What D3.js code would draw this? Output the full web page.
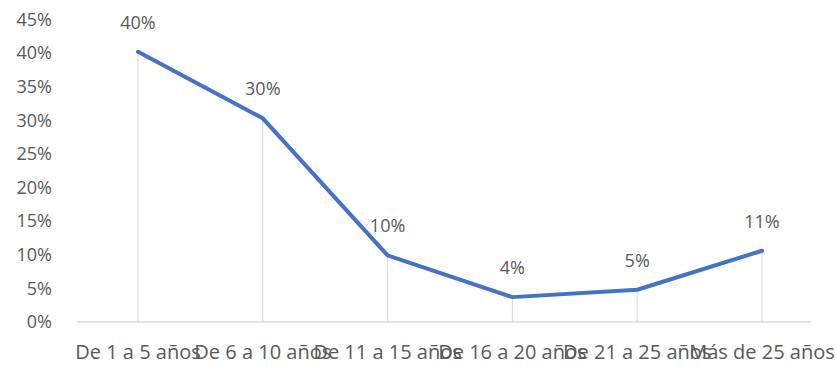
<!DOCTYPE html>
<html>
<head>
<meta charset="utf-8">
<script src="https://cdn.jsdelivr.net/npm/d3@7"></script>
<style>
  body { margin: 0; background: #fff; }
  text { font-family: "Open Sans", "Liberation Sans", sans-serif; fill: #595959; }
</style>
</head>
<body>
<div id="chart"></div>
<script>
var categories = ["De 1 a 5 años", "De 6 a 10 años", "De 11 a 15 años", "De 16 a 20 años", "De 21 a 25 años", "Más de 25 años"];
var values = [0.402, 0.303, 0.099, 0.037, 0.048, 0.106];
var labels = ["40%", "30%", "10%", "4%", "5%", "11%"];
var yTicks = [0, 0.05, 0.10, 0.15, 0.20, 0.25, 0.30, 0.35, 0.40, 0.45];

var width = 836, height = 367;
var svg = d3.select("#chart").append("svg")
    .attr("width", width)
    .attr("height", height);

var x = d3.scalePoint()
    .domain(categories)
    .range([138, 762]);

var y = d3.scaleLinear()
    .domain([0, 0.45])
    .range([322, 19.5]);

// drop lines
svg.append("g")
    .selectAll("line")
    .data(categories)
    .enter().append("line")
    .attr("x1", function (d) { return x(d); })
    .attr("x2", function (d) { return x(d); })
    .attr("y1", function (d, i) { return y(values[i]); })
    .attr("y2", y(0))
    .attr("stroke", "#d9d9d9")
    .attr("stroke-width", 1);

// x axis line
svg.append("line")
    .attr("x1", 77).attr("x2", 811)
    .attr("y1", y(0)).attr("y2", y(0))
    .attr("stroke", "#d9d9d9")
    .attr("stroke-width", 1.5);

// y tick labels
svg.append("g")
    .selectAll("text")
    .data(yTicks)
    .enter().append("text")
    .attr("x", 52)
    .attr("y", function (d) { return y(d); })
    .attr("dy", "0.35em")
    .attr("text-anchor", "end")
    .style("font-size", "18px")
    .text(function (d) { return d3.format(".0%")(d); });

// x labels
svg.append("g")
    .selectAll("text")
    .data(categories)
    .enter().append("text")
    .attr("x", function (d) { return x(d); })
    .attr("y", 359)
    .attr("text-anchor", "middle")
    .style("font-size", "20px")
    .text(function (d) { return d; });

var line = d3.line()
    .x(function (d, i) { return x(categories[i]); })
    .y(function (d) { return y(d); });

svg.append("path")
    .datum(values)
    .attr("d", line)
    .attr("fill", "none")
    .attr("stroke", "#4472c4")
    .attr("stroke-width", 4)
    .attr("stroke-linejoin", "round")
    .attr("stroke-linecap", "round");

// data labels
svg.append("g")
    .selectAll("text")
    .data(values)
    .enter().append("text")
    .attr("x", function (d, i) { return x(categories[i]); })
    .attr("y", function (d) { return y(d) - 23; })
    .attr("text-anchor", "middle")
    .style("font-size", "18px")
    .text(function (d, i) { return labels[i]; });
</script>
</body>
</html>
